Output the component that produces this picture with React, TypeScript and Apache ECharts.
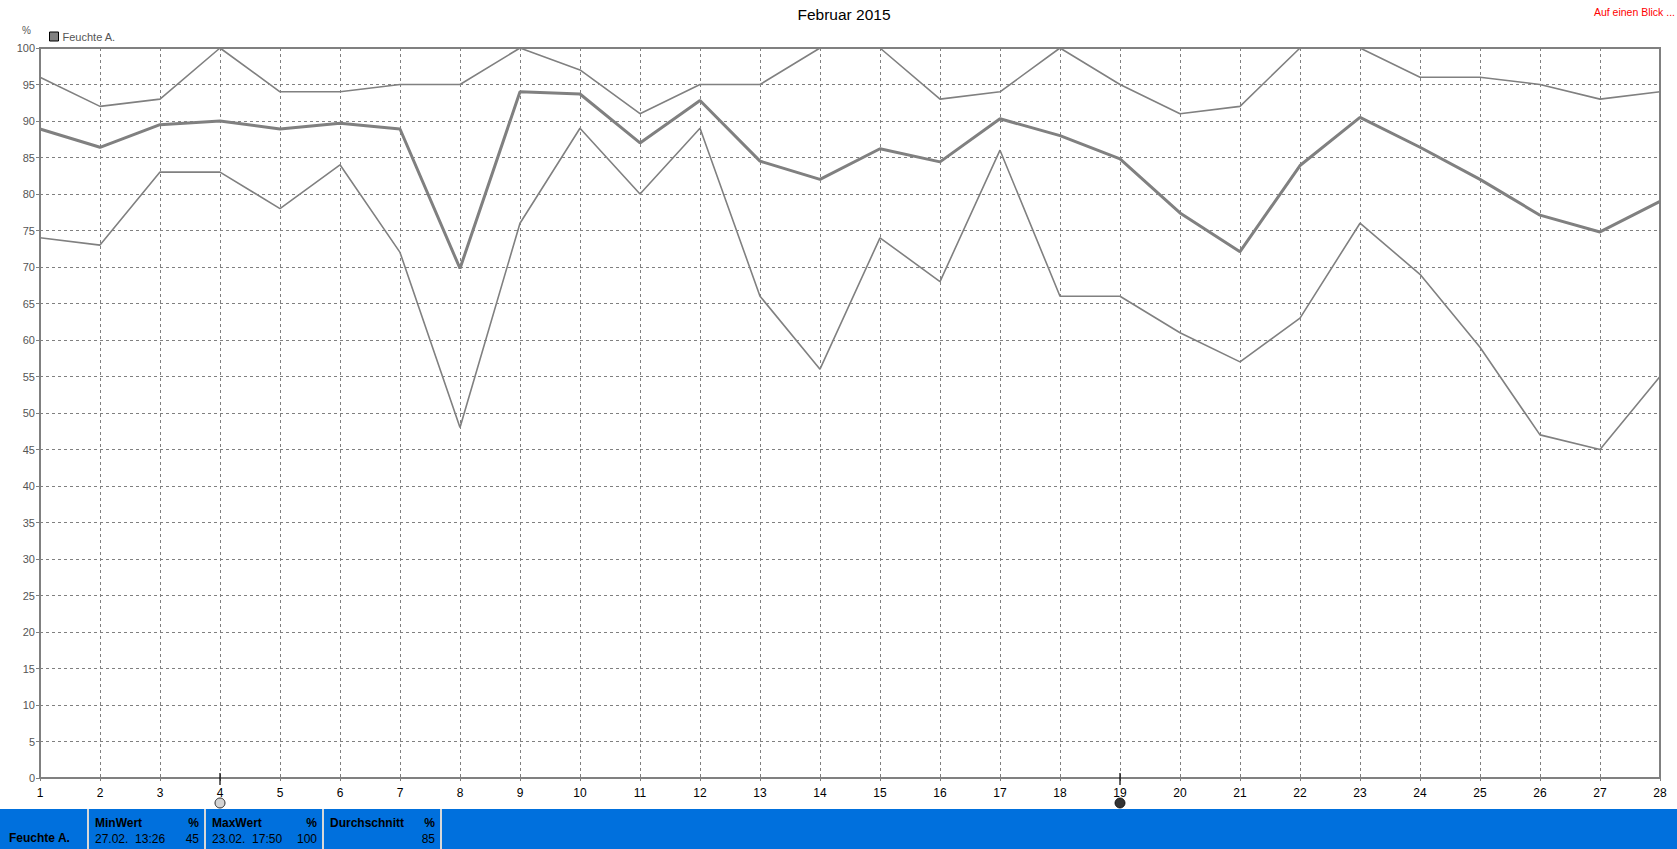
import React, { useEffect, useRef } from "react";
import * as echarts from "echarts";

const chartTitle = "Februar 2015";
const seriesName = "Feuchte A.";
const days = [1, 2, 3, 4, 5, 6, 7, 8, 9, 10, 11, 12, 13, 14, 15, 16, 17, 18, 19, 20, 21, 22, 23, 24, 25, 26, 27, 28];
const maxValues = [96, 92, 93, 100, 94, 94, 95, 95, 100, 97, 91, 95, 95, 100, 100, 93, 94, 100, 95, 91, 92, 100, 100, 96, 96, 95, 93, 94];
const meanValues = [88.9, 86.4, 89.5, 90, 88.9, 89.7, 88.9, 69.8, 94, 93.7, 87, 92.8, 84.5, 82, 86.2, 84.4, 90.3, 88, 84.8, 77.4, 72.1, 83.9, 90.5, 86.4, 82, 77.1, 74.8, 79];
const minValues = [74, 73, 83, 83, 78, 84, 72, 48, 76, 89, 80, 89, 66, 56, 74, 68, 86, 66, 66, 61, 57, 63, 76, 69, 59, 47, 45, 55];
const fullMoonDays = [4];
const newMoonDays = [19];

const summaryLabel = "Feuchte A.";
const summaryHeads = ["MinWert", "MaxWert", "Durchschnitt"];
const summaryUnits = ["%", "%", "%"];
const summaryTimes = ["27.02.  13:26", "23.02.  17:50", ""];
const summaryValues = ["45", "100", "85"];

const GRAY = "#808080";
const FONT = "'Liberation Sans', Arial, sans-serif";

export default function App() {
  const ref = useRef<HTMLDivElement>(null);
  useEffect(() => {
    document.body.style.margin = "0";
    const chart = echarts.init(ref.current!, undefined, { renderer: "svg" });
    const pairs = (vals: number[]) => days.map((d, i) => [d, vals[i]]);

    const cellX = [0, 88, 205, 323, 441];
    const footerTop = 809;
    const graphic: any[] = [
      { type: "rect", shape: { x: 0, y: footerTop, width: 1677, height: 40 }, style: { fill: "#0070DD" }, silent: true },
    ];
    cellX.slice(1).forEach((x) => {
      graphic.push({ type: "rect", shape: { x: x - 1, y: footerTop, width: 2, height: 40 }, style: { fill: "#D8D8D8" } });
    });
    graphic.push({
      type: "text", x: 9, y: 832,
      style: { text: summaryLabel, font: `bold 12px ${FONT}`, fill: "#000" },
    });
    summaryHeads.forEach((h, i) => {
      const x0 = cellX[i + 1] + 7;
      const x1 = cellX[i + 2] - 6;
      graphic.push({ type: "text", x: x0, y: 817, style: { text: h, font: `bold 12px ${FONT}`, fill: "#000" } });
      graphic.push({ type: "text", x: x1, y: 817, style: { text: summaryUnits[i], font: `bold 12px ${FONT}`, fill: "#000", align: "right" } });
      if (summaryTimes[i]) graphic.push({ type: "text", x: x0, y: 833, style: { text: summaryTimes[i], font: `12px ${FONT}`, fill: "#000" } });
      graphic.push({ type: "text", x: x1, y: 833, style: { text: summaryValues[i], font: `12px ${FONT}`, fill: "#000", align: "right" } });
    });
    graphic.push({ type: "text", x: 22, y: 25, style: { text: "%", font: `10px ${FONT}`, fill: "#555" } });
    graphic.push({ type: "text", x: 1675, y: 6, style: { text: "Auf einen Blick ...", font: `10.5px ${FONT}`, fill: "#FF0000", align: "right" } });
    graphic.push({ type: "text", x: 844, y: 6, style: { text: chartTitle, font: `15.5px ${FONT}`, fill: "#000", align: "center" } });

    chart.setOption({
      animation: false,
      legend: {
        data: [seriesName], left: 49, top: 31, icon: "rect", itemWidth: 9, itemHeight: 9, itemGap: 4,
        itemStyle: { color: GRAY, borderColor: "#000", borderWidth: 1 },
        textStyle: { fontFamily: FONT, fontSize: 11, color: "#555", padding: [0, 0, 0, -1] },
        padding: 0,
      },
      graphic,
      grid: { left: 40, top: 48, width: 1620, height: 730, show: true, borderColor: GRAY, borderWidth: 2, backgroundColor: "transparent" },
      xAxis: {
        type: "value", min: 1, max: 28, interval: 1,
        axisLine: { show: true, lineStyle: { color: GRAY, width: 2 } },
        axisTick: { show: true, length: 3, lineStyle: { color: GRAY } },
        axisLabel: { color: "#000", fontFamily: FONT, fontSize: 12, margin: 9 },
        splitLine: { show: true, lineStyle: { color: GRAY, type: [3, 3], width: 1 } },
      },
      yAxis: {
        type: "value", min: 0, max: 100, interval: 5,
        axisLine: { show: true, lineStyle: { color: GRAY, width: 2 } },
        axisTick: { show: true, length: 4, lineStyle: { color: GRAY } },
        axisLabel: { color: "#555", fontFamily: FONT, fontSize: 11, margin: 5 },
        splitLine: { show: true, lineStyle: { color: GRAY, type: [3, 3], width: 1 } },
      },
      series: [
        { name: "Max", type: "line", data: pairs(maxValues), symbol: "none", lineStyle: { color: GRAY, width: 1.6 }, itemStyle: { color: GRAY }, z: 3 },
        { name: seriesName, type: "line", data: pairs(meanValues), symbol: "none", lineStyle: { color: GRAY, width: 3 }, itemStyle: { color: GRAY }, z: 4 },
        { name: "Min", type: "line", data: pairs(minValues), symbol: "none", lineStyle: { color: GRAY, width: 1.6 }, itemStyle: { color: GRAY }, z: 3 },
        {
          name: "MoonTick", type: "scatter", clip: false, silent: true,
          data: [...fullMoonDays, ...newMoonDays].map((d) => [d, 0]),
          symbol: "rect", symbolSize: [1.5, 12], symbolOffset: [0, 1], itemStyle: { color: "#000" }, z: 6,
        },
        {
          name: "FullMoon", type: "scatter", clip: false, silent: true,
          data: fullMoonDays.map((d) => [d, 0]),
          symbol: "circle", symbolSize: 10, symbolOffset: [0, 25],
          itemStyle: { color: "#C8C8C8", borderColor: "#000", borderWidth: 1 }, z: 6,
        },
        {
          name: "NewMoon", type: "scatter", clip: false, silent: true,
          data: newMoonDays.map((d) => [d, 0]),
          symbol: "circle", symbolSize: 10, symbolOffset: [0, 25],
          itemStyle: { color: "#000", borderColor: "#000", borderWidth: 1 }, z: 6,
        },
      ],
    });
    return () => chart.dispose();
  }, []);
  return <div ref={ref} style={{ position: "absolute", left: 0, top: 0, width: 1677, height: 849, background: "#fff" }} />;
}
